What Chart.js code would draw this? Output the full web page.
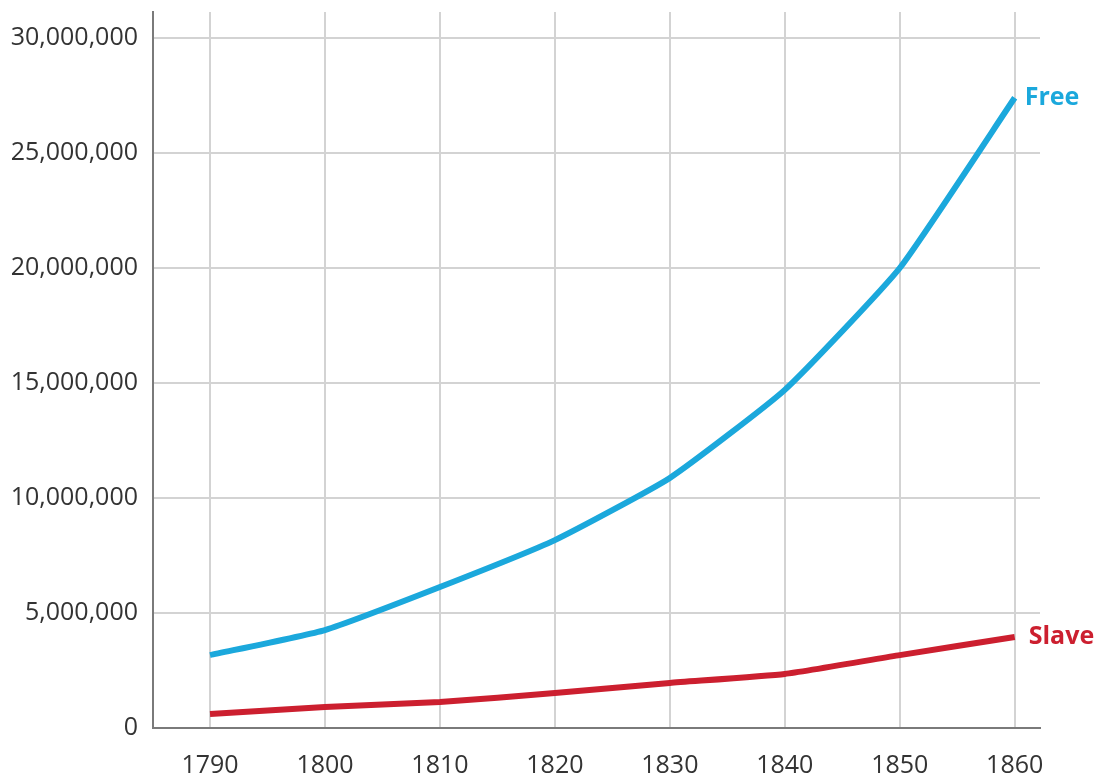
<!DOCTYPE html>
<html>
<head>
<meta charset="utf-8">
<script src="https://cdn.jsdelivr.net/npm/chart.js@4/dist/chart.umd.min.js"></script>
<style>
  html, body { margin: 0; padding: 0; background: #fff; }
  #wrap { width: 1101px; height: 780px; }
</style>
</head>
<body>
<div id="wrap"><canvas id="chart" width="1101" height="780"></canvas></div>
<script>
// census years and population
const years = [1790, 1800, 1810, 1820, 1830, 1840, 1850, 1860];
const freePop = [3170000, 4260000, 6130000, 8170000, 10870000, 14700000, 20000000, 27400000];
const slavePop = [610000, 910000, 1130000, 1520000, 1960000, 2350000, 3170000, 3960000];
const yTicks = [0, 5000000, 10000000, 15000000, 20000000, 25000000, 30000000];
const seriesNames = ['Free', 'Slave'];
const seriesColors = ['#1ba8dc', '#cc1f2f'];

const gridColor = '#d3d3d3';
const axisColor = '#7a7a7a';
const tickFont = { family: '"Open Sans", sans-serif', size: 25 };

function toPoints(vals) {
    return years.map((y, i) => ({x: y, y: vals[i]}));
}

// labels at the right end of each line
const endLabels = {
    id: 'endLabels',
    afterDatasetsDraw(chart) {
        const ctx = chart.ctx;
        ctx.save();
        ctx.font = 'bold 25px "Open Sans", sans-serif';
        ctx.textBaseline = 'middle';
        ctx.textAlign = 'left';
        chart.data.datasets.forEach((ds, i) => {
            const meta = chart.getDatasetMeta(i);
            const last = meta.data[meta.data.length - 1];
            ctx.fillStyle = ds.borderColor;
            ctx.fillText(ds.label, last.x + (i === 0 ? 10 : 14), last.y);
        });
        ctx.restore();
    }
};

new Chart(document.getElementById('chart'), {
    type: 'line',
    data: {
        datasets: [
            {label: seriesNames[0], data: toPoints(freePop), borderColor: seriesColors[0]},
            {label: seriesNames[1], data: toPoints(slavePop), borderColor: seriesColors[1]}
        ].map(d => Object.assign(d, {
            borderWidth: 6,
            pointRadius: 0,
            tension: 0.15,
            fill: false,
            borderCapStyle: 'butt'
        }))
    },
    options: {
        responsive: false,
        animation: false,
        layout: { padding: { top: 12, right: 61, left: 0, bottom: 0 } },
        plugins: { legend: { display: false }, tooltip: { enabled: false } },
        scales: {
            x: {
                type: 'linear',
                min: 1785.04,
                max: 1862.2,
                afterFit(s) { s.height = 52; s.paddingLeft = 0; s.paddingRight = 0; },
                afterBuildTicks(s) { s.ticks = years.map(v => ({value: v})); },
                ticks: {
                    color: '#333',
                    font: tickFont,
                    padding: 23,
                    callback: v => String(v)
                },
                grid: { color: gridColor, lineWidth: 2, drawTicks: false },
                border: { color: axisColor, width: 2 }
            },
            y: {
                min: 0,
                max: 31130000,
                afterFit(s) { s.width = 153; s.paddingTop = 0; s.paddingBottom = 0; },
                afterBuildTicks(s) { s.ticks = yTicks.map(v => ({value: v})); },
                ticks: {
                    color: '#333',
                    font: tickFont,
                    padding: 15,
                    callback: v => v.toLocaleString('en-US')
                },
                grid: { color: gridColor, lineWidth: 2, drawTicks: false },
                border: { color: axisColor, width: 2 }
            }
        }
    },
    plugins: [endLabels]
});
</script>
</body>
</html>
